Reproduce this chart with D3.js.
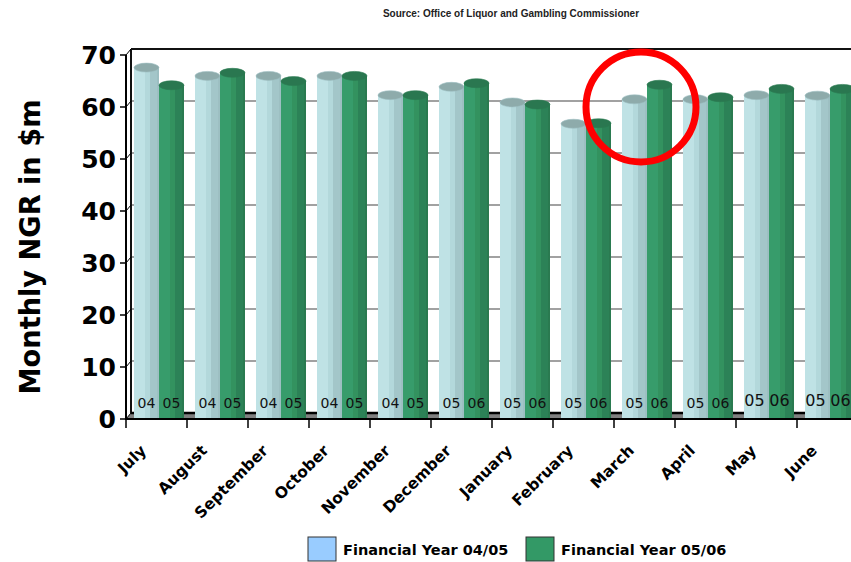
<!DOCTYPE html>
<html><head><meta charset="utf-8">
<script src="https://cdn.jsdelivr.net/npm/d3@7"></script>
<style>body{margin:0;background:#fff}svg{display:block}</style>
</head><body><svg id="c" width="851" height="562"></svg>
<script>
const months = ["July","August","September","October","November","December","January","February","March","April","May","June"];
const series = ["Financial Year 04/05","Financial Year 05/06"];
const fy0405 = [67.0,65.4,65.4,65.4,61.7,63.3,60.3,56.2,60.9,60.9,61.7,61.6];
const fy0506 = [63.6,66.0,64.4,65.4,61.7,64.0,59.9,56.3,63.7,61.3,62.9,62.9];
const barLabel1 = ["04","04","04","04","04","05","05","05","05","05","05","05"];
const barLabel2 = ["05","05","05","05","05","06","06","06","06","06","06","06"];
const yTicks = [0,10,20,30,40,50,60,70];
const title = "Source: Office of Liquor and Gambling Commissioner";
const yTitle = "Monthly NGR in $m";

const svg = d3.select("#c");
const FONT = "'Comic Sans MS','DejaVu Sans',sans-serif";
const W = 851;
const dx = 5, dy = -6;
const y = d3.scaleLinear().domain([0,70]).range([419,55]);
const yb = v => y(v) + dy;          // back wall
const ym = v => y(v) + dy/2;        // bar mid depth
const x = d3.scaleBand().domain(months).range([126, 858]);
const xs = d3.scaleBand().domain(series).range([8, 58]);
const colors = {light:{l:"#bfe2e5",m:"#b3d8db",r:"#a3c6c9",top:"#8eabab",edge:"#9dbfc2"},
                green:{l:"#379c6b",m:"#33925f",r:"#2c8257",top:"#2a7750",edge:"#2a7a50"}};

const defs = svg.append("defs");
function grad(id,c){
  const g = defs.append("linearGradient").attr("id",id).attr("x1","0").attr("x2","1").attr("y1","0").attr("y2","0");
  [[0,c.l],[0.45,c.l],[0.46,c.m],[0.62,c.m],[0.63,c.r],[0.92,c.r],[0.93,c.edge],[1,c.edge]].forEach(([o,col])=>
    g.append("stop").attr("offset",o).attr("stop-color",col));
}
grad("gLight",colors.light); grad("gGreen",colors.green);

// title
svg.append("text").attr("x",511).attr("y",17).attr("text-anchor","middle")
  .attr("font-family","'Liberation Sans',Arial,sans-serif").attr("font-weight","bold").attr("font-size",10)
  .attr("fill","#222").text(title);

// back wall gridlines
const x0 = 126;
svg.append("g").selectAll("line").data(yTicks.filter(t=>t>0&&t<70)).join("line")
  .attr("x1",x0+dx).attr("x2",W).attr("y1",d=>yb(d)).attr("y2",d=>yb(d))
  .attr("stroke","#444").attr("stroke-width",1.2);
svg.append("line").attr("x1",x0+dx).attr("x2",W).attr("y1",yb(70)).attr("y2",yb(70)).attr("stroke","#111").attr("stroke-width",2);
svg.append("line").attr("x1",x0+dx).attr("x2",x0+dx).attr("y1",yb(70)).attr("y2",yb(0)).attr("stroke","#111").attr("stroke-width",2);

// floor
svg.append("polygon").attr("points",[[x0,y(0)],[x0+dx,yb(0)],[W,yb(0)],[W,y(0)]].join(" ")).attr("fill","#808080");
svg.append("line").attr("x1",x0+dx).attr("x2",W).attr("y1",yb(0)).attr("y2",yb(0)).attr("stroke","#000").attr("stroke-width",2.5);

// bars
const data = months.map((m,i)=>({m,i,vals:[{s:series[0],v:fy0405[i],lab:barLabel1[i],k:"light"},{s:series[1],v:fy0506[i],lab:barLabel2[i],k:"green"}]}));
const gBars = svg.append("g");
data.forEach(d=>{
  d.vals.forEach(b=>{
    const bx = x(d.m) + xs(b.s), bw = xs.bandwidth();
    const top = ym(b.v), ry = 4.5;
    gBars.append("rect").attr("x",bx).attr("y",top).attr("width",bw).attr("height",y(0)-top)
      .attr("fill",b.k==="light"?"url(#gLight)":"url(#gGreen)");
    gBars.append("ellipse").attr("cx",bx+bw/2).attr("cy",top).attr("rx",bw/2).attr("ry",ry)
      .attr("fill",colors[b.k].top).attr("stroke",colors[b.k].edge).attr("stroke-width",0.6);
  });
});

// bar labels
data.forEach(d=>{
  const big = d.i>=10;
  d.vals.forEach(b=>{
    const bx = x(d.m) + xs(b.s) + xs.bandwidth()/2 - (big?2:0);
    gBars.append("text").attr("x",bx).attr("y",big?400:403).attr("text-anchor","middle")
      .attr("dominant-baseline","central").attr("font-family",FONT)
      .attr("font-size",big?16:14).attr("font-weight","normal").attr("fill","#111").text(b.lab);
  });
});

// front axes
svg.append("line").attr("x1",x0).attr("x2",x0).attr("y1",y(70)).attr("y2",y(0)+1).attr("stroke","#000").attr("stroke-width",2);
svg.append("line").attr("x1",x0).attr("x2",W).attr("y1",y(0)).attr("y2",y(0)).attr("stroke","#000").attr("stroke-width",2);
const yt = svg.append("g");
yTicks.forEach(t=>{
  yt.append("line").attr("x1",x0-6).attr("x2",x0).attr("y1",y(t)).attr("y2",y(t)).attr("stroke","#000").attr("stroke-width",1.5);
  yt.append("line").attr("x1",x0).attr("x2",x0+dx).attr("y1",y(t)).attr("y2",yb(t)).attr("stroke","#000").attr("stroke-width",1);
  yt.append("text").attr("x",116).attr("y",y(t)).attr("text-anchor","end").attr("dominant-baseline","central")
    .attr("font-family",FONT).attr("font-weight","bold").attr("font-size",25).attr("fill","#000").text(t);
});
const xt = svg.append("g");
months.forEach(m=>{
  const bx = x(m);
  xt.append("line").attr("x1",bx).attr("x2",bx).attr("y1",y(0)).attr("y2",y(0)+9).attr("stroke","#000").attr("stroke-width",1.5);
  const cx = bx + x.bandwidth()/2 - 13, cy = 448;
  xt.append("text").attr("transform",`translate(${cx},${cy}) rotate(-45)`).attr("text-anchor","end")
    .attr("dominant-baseline","central").attr("font-family",FONT).attr("font-weight","bold").attr("font-size",15.5)
    .attr("fill","#000").text(m);
});

// y title
svg.append("text").attr("transform","translate(30,247) rotate(-90)").attr("text-anchor","middle")
  .attr("dominant-baseline","central").attr("font-family",FONT).attr("font-weight","bold").attr("font-size",28)
  .attr("textLength",295).attr("lengthAdjust","spacingAndGlyphs").attr("fill","#000").text(yTitle);

// red circle annotation
svg.append("circle").attr("cx",641).attr("cy",107).attr("r",55).attr("fill","none").attr("stroke","#ff0000").attr("stroke-width",7);

// legend
const leg = [{s:series[0],x:308,fill:"#99ccff"},{s:series[1],x:526,fill:"#339966"}];
leg.forEach(l=>{
  svg.append("rect").attr("x",l.x).attr("y",537).attr("width",28).attr("height",24).attr("fill",l.fill).attr("stroke","#333").attr("stroke-width",1);
  svg.append("text").attr("x",l.x+35).attr("y",550).attr("dominant-baseline","central").attr("font-family",FONT)
    .attr("font-weight","bold").attr("font-size",14.5).attr("fill","#000").text(l.s);
});
</script></body></html>
